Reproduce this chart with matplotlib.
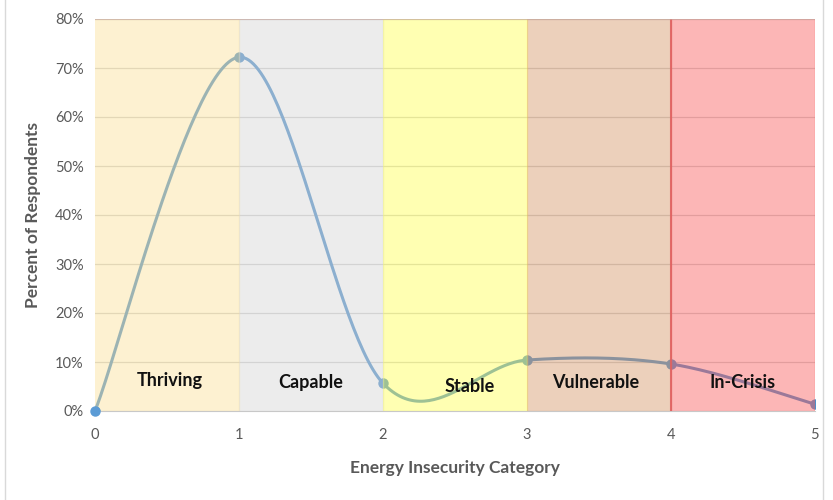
import numpy as np
import matplotlib.pyplot as plt
from matplotlib.patches import Rectangle

# data
categories = [0, 1, 2, 3, 4, 5]
pct = [0.0, 72.2, 5.7, 10.4, 9.6, 1.4]

band_names = ['Thriving', 'Capable', 'Stable', 'Vulnerable', 'In-Crisis']
band_edges = [0, 1, 2, 3, 4, 5]
band_colors = ['#fbe199', '#d7d7d7', '#ffff55', '#d59769', '#f95f5f']
label_x = [0.52, 1.5, 2.6, 3.48, 4.5]
label_y = [6.3, 5.9, 5.1, 5.9, 5.9]

plt.rcParams['font.family'] = ['Lato', 'DejaVu Sans']


def smooth(xs, ys, n=60):
    # excel-style smoothed line (catmull-rom bezier)
    p = np.column_stack([xs, ys]).astype(float)
    p = np.vstack([p[0], p, p[-1]])
    out = []
    for i in range(1, len(p) - 2):
        p0, p1, p2, p3 = p[i - 1], p[i], p[i + 1], p[i + 2]
        c1 = p1 + (p2 - p0) / 6
        c2 = p2 - (p3 - p1) / 6
        t = np.linspace(0, 1, n)[:, None]
        seg = ((1 - t) ** 3) * p1 + 3 * ((1 - t) ** 2) * t * c1 + 3 * (1 - t) * t ** 2 * c2 + t ** 3 * p2
        out.append(seg)
    out = np.vstack(out)
    return out[:, 0], out[:, 1]


fig = plt.figure(figsize=(8.33, 5), dpi=100)
ax = fig.add_axes([0.114, 0.178, 0.864, 0.784])

sx, sy = smooth(categories, pct)
ax.plot(sx, sy, color='#4f8fc9', lw=2.2, zorder=2, solid_capstyle='round')
ax.plot(categories, pct, 'o', color='#4f8fc9', ms=6.5, zorder=2)
ax.plot(categories[0], pct[0], 'o', color='#5b9bd5', ms=6.5, zorder=4, clip_on=False)

for i, name in enumerate(band_names):
    ax.add_patch(Rectangle((band_edges[i], 0), band_edges[i + 1] - band_edges[i], 80,
                           facecolor=band_colors[i], alpha=0.45, edgecolor='none', zorder=3))
    ax.text(label_x[i], label_y[i], name, ha='center', va='center', fontsize=13,
            fontweight='bold', color='#111111', zorder=5)
    ax.axvline(band_edges[i + 1], color=band_colors[i], alpha=0.5, lw=1, zorder=3)
ax.axvline(4, color='#e06060', lw=1.5, alpha=0.9, zorder=3)
ax.axhline(80, color='#c9a9a0', lw=0.8, alpha=0.6, zorder=3)

ax.set_xlim(0, 5)
ax.set_ylim(0, 80)
ax.set_yticks(np.arange(0, 81, 10))
ax.set_yticklabels([f'{v}%' for v in range(0, 81, 10)])
ax.set_xticks(categories)
ax.grid(axis='y', color='#d0d0d0', lw=0.9, zorder=1)
ax.set_axisbelow(True)
for s in ['top', 'right', 'left']:
    ax.spines[s].set_visible(False)
ax.spines['bottom'].set_color('#c8c8c8')
ax.tick_params(length=0, labelsize=10.5, colors='#595959', pad=12)
ax.tick_params(axis='y', pad=8)
ax.set_xlabel('Energy Insecurity Category', fontsize=12.5, fontweight='bold', color='#595959', labelpad=13)
ax.set_ylabel('Percent of Respondents', fontsize=12.5, fontweight='bold', color='#595959', labelpad=10)

fig.add_artist(Rectangle((0.006, -0.01), 0.982, 1.02, transform=fig.transFigure,
                         fill=False, edgecolor='#d9d9d9', lw=1))

fig.savefig('out.png', dpi=100)
